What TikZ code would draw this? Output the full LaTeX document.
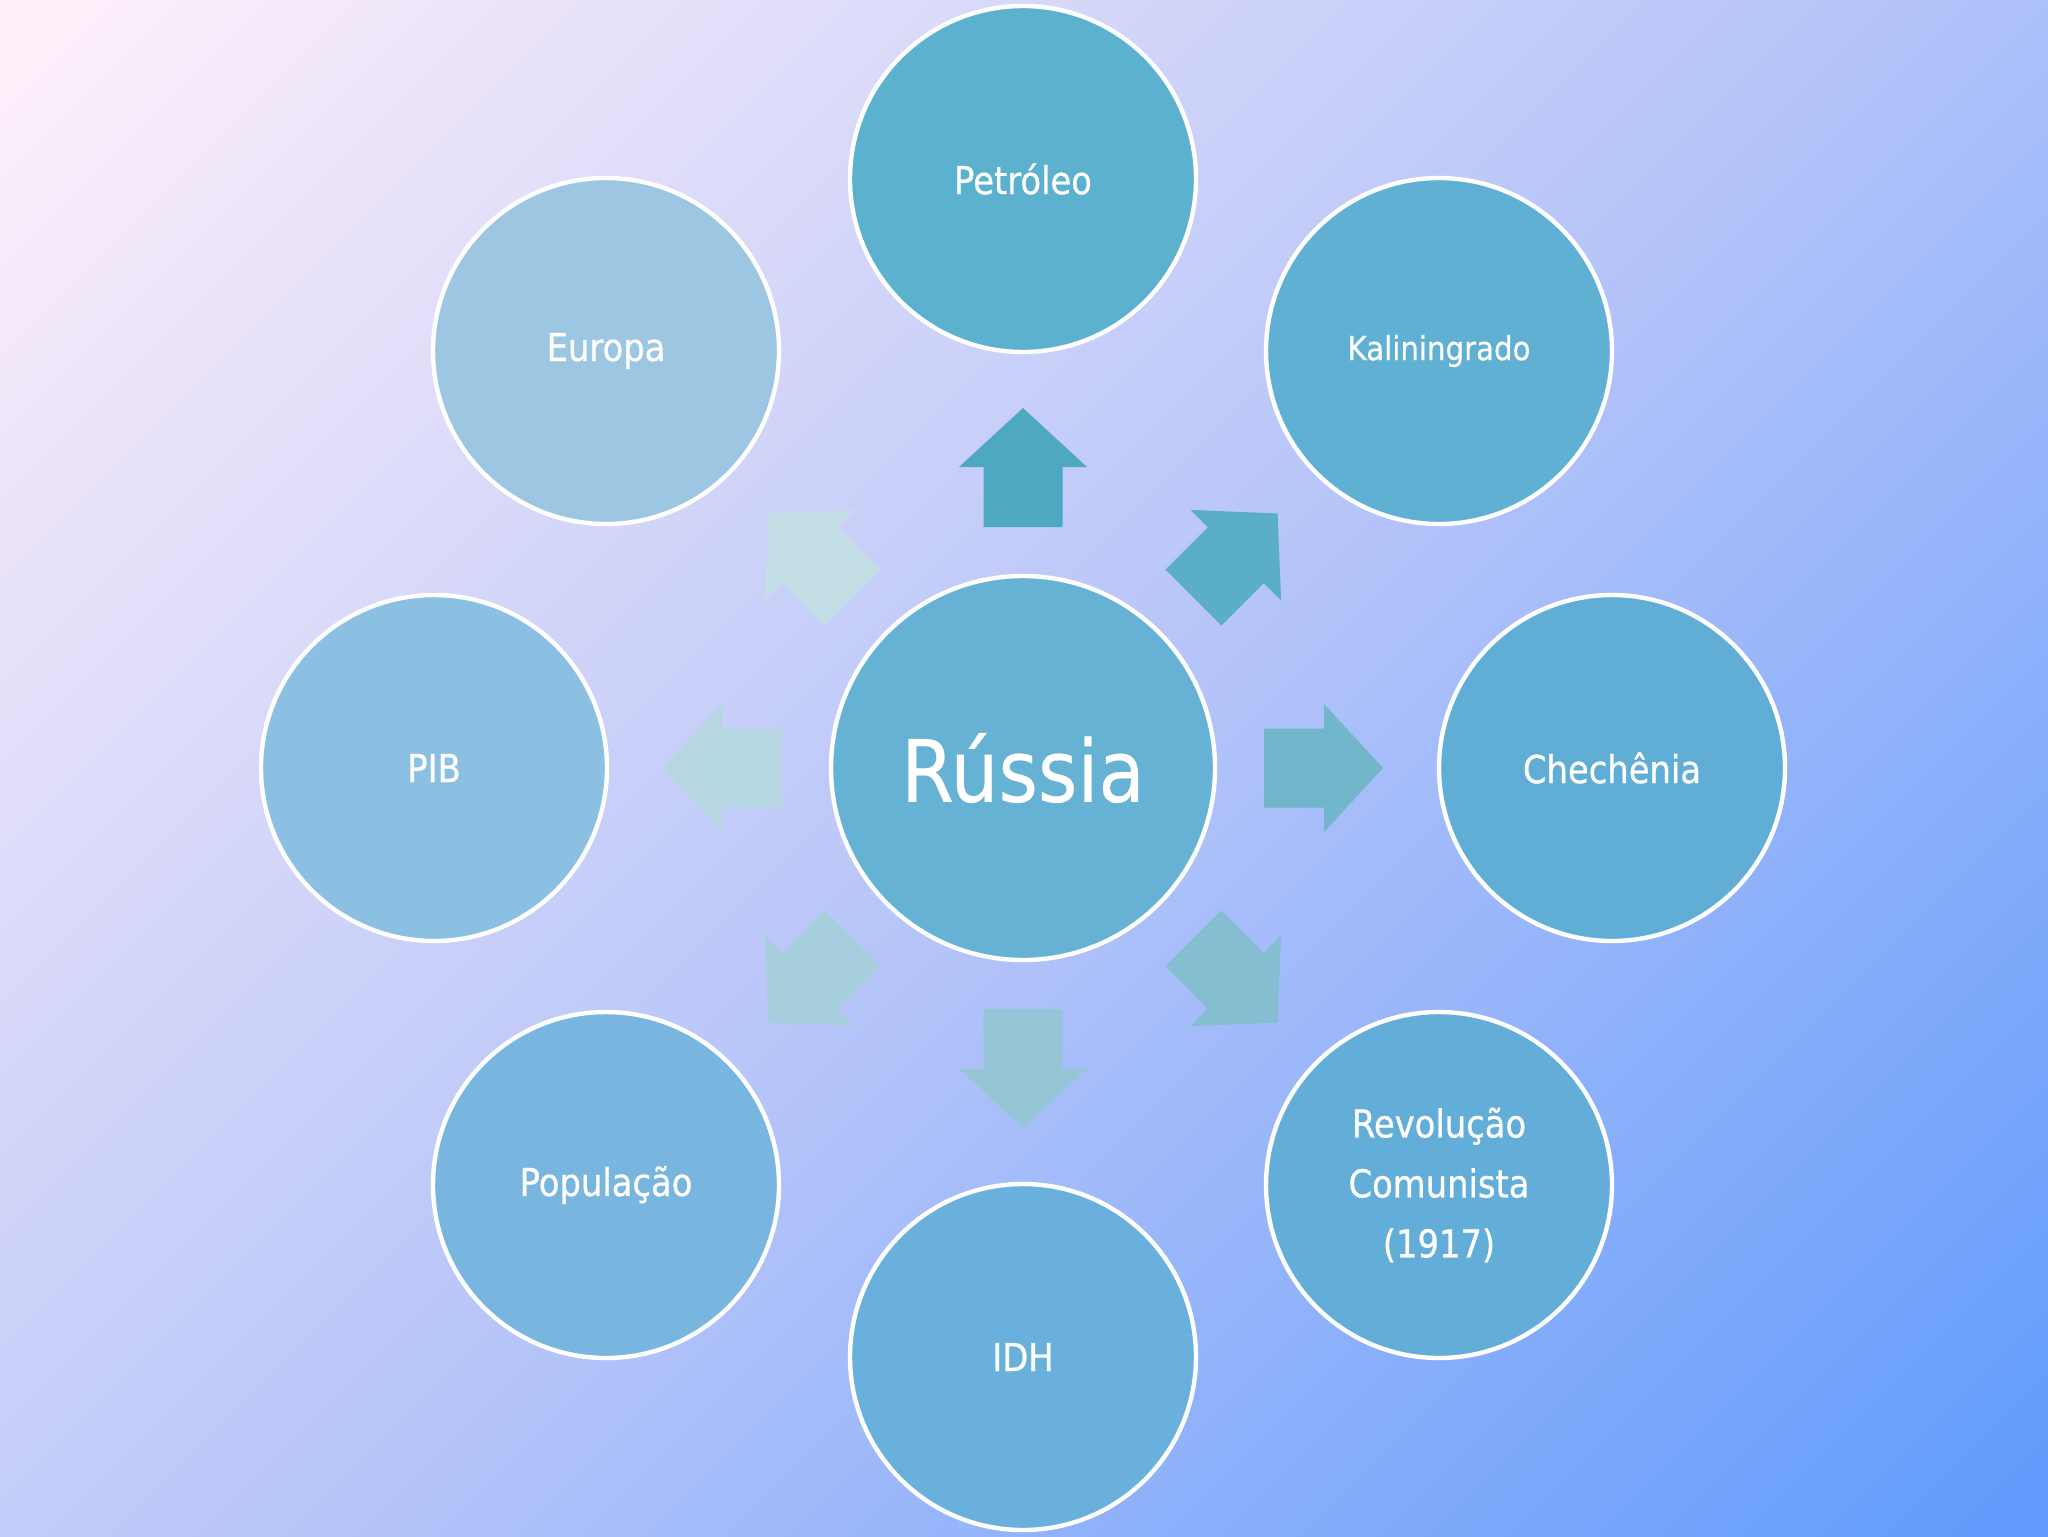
\documentclass[tikz,border=0pt]{standalone}
\usepackage{fontspec}
\newfontfamily\lblfont{DejaVu Sans}[FakeStretch=0.88,FakeBold=0.7]
\newfontfamily\lblthin{DejaVu Sans}[FakeStretch=0.88,FakeBold=0.3]
\definecolor{bgA}{HTML}{FDEFFA}
\definecolor{bgB}{HTML}{B9C6F9}
\definecolor{bgC}{HTML}{639CFC}
\definecolor{cN}{HTML}{5BB1CE}
\definecolor{cNE}{HTML}{60B0D4}
\definecolor{cE}{HTML}{60AED6}
\definecolor{cSE}{HTML}{63AED8}
\definecolor{cS}{HTML}{6AB0DC}
\definecolor{cSW}{HTML}{78B6E0}
\definecolor{cW}{HTML}{8CC0E2}
\definecolor{cNW}{HTML}{9CC6E2}
\definecolor{cHub}{HTML}{66B2D4}
\definecolor{aN}{HTML}{4EA8C2}
\definecolor{aNE}{HTML}{5AAFC6}
\definecolor{aE}{HTML}{72B6CC}
\definecolor{aSE}{HTML}{84BED0}
\definecolor{aS}{HTML}{96C6D6}
\definecolor{aSW}{HTML}{A6CEDC}
\definecolor{aW}{HTML}{B6D6E2}
\definecolor{aNW}{HTML}{C4DEE6}
\pgfdeclarehorizontalshading{bgshade}{100bp}{color(0bp)=(bgA); color(16bp)=(bgA); color(50bp)=(bgB); color(84bp)=(bgC); color(100bp)=(bgC)}
\begin{document}
\begin{tikzpicture}[x=0.5pt,y=-0.5pt,
  bubble/.style={circle, draw=white, line width=2.2pt, minimum size=173pt, inner sep=0pt,
    text=white, align=center, font=\lblfont\fontsize{19.2}{30}\selectfont},
  hub/.style={bubble, minimum size=192pt, font=\lblthin\fontsize{43}{50}\selectfont},
  blockarrow/.style={draw=none}]
\useasboundingbox (0,0) rectangle (2048,1536);
\shade[shading=bgshade, shading angle=-45] (0,0) rectangle (2048,1536);
\node[hub, fill=cHub] (hub) at (1023,768) {Rússia};
\node[bubble, fill=cN]  (petroleo) at (1023,179) {Petróleo};
\node[bubble, fill=cNE, font=\lblthin\fontsize{16.6}{30}\selectfont] (kalin) at (1439,351) {Kaliningrado};
\node[bubble, fill=cE]  (chech) at (1612,768) {Chechênia};
\node[bubble, fill=cSE] (revol) at (1439,1185) {Revolução\\Comunista\\(1917)};
\node[bubble, fill=cS]  (idh) at (1023,1357) {IDH};
\node[bubble, fill=cSW] (popul) at (606,1185) {População};
\node[bubble, fill=cW]  (pib) at (434,768) {PIB};
\node[bubble, fill=cNW] (europa) at (606,351) {Europa};
\foreach \ang/\col in {90/aN, 45/aNE, 0/aE, -45/aSE, -90/aS, -135/aSW, 180/aW, 135/aNW}
  \fill[\col, blockarrow, shift={(hub.center)}, rotate=\ang]
    (241,-39.5) -- (301,-39.5) -- (301,-64) -- (360,0) -- (301,64) -- (301,39.5) -- (241,39.5) -- cycle;
\end{tikzpicture}
\end{document}
